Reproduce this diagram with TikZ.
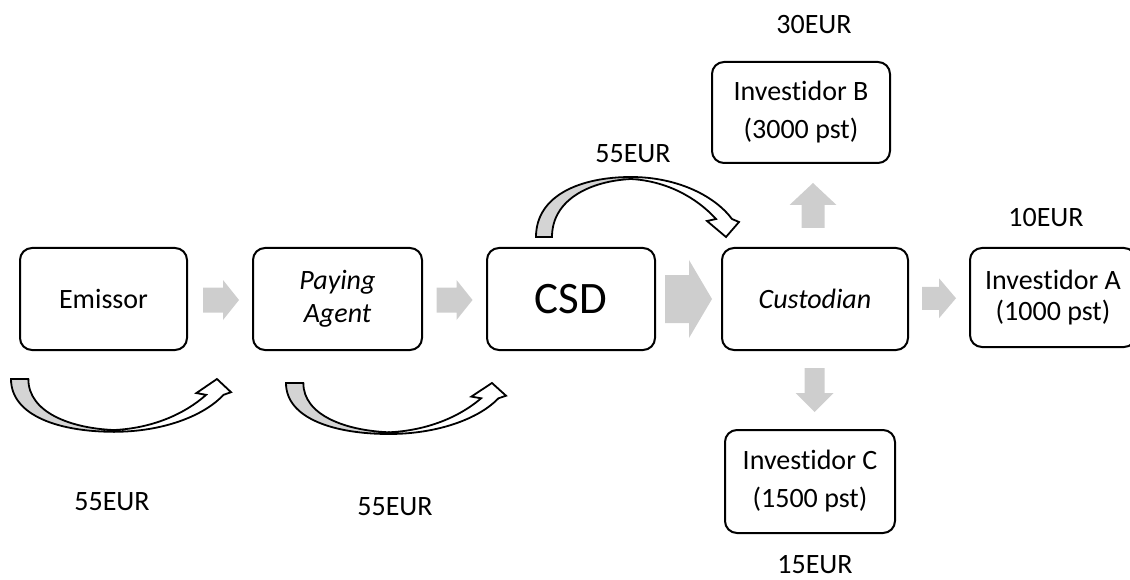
\documentclass[tikz,border=0pt]{standalone}
\usepackage{fontspec}
\setmainfont{Carlito}[Ligatures=NoCommon]
\usetikzlibrary{calc}
\definecolor{flowgray}{RGB}{206,206,206}
\definecolor{bandgray}{RGB}{212,212,212}
\tikzset{
  box/.style={draw, line width=2pt, rounded corners=12pt, align=center,
    inner sep=0pt, font=\fontsize{28}{33}\selectfont},
  lbl/.style={inner sep=0pt, font=\fontsize{28}{33}\selectfont},
  % straight block arrow: length, head length, head half-width, shaft half-width
  pics/blockarrow/.style n args={4}{code={
    \fill[flowgray] (-#1/2,-#4) -- (#1/2-#2,-#4) -- (#1/2-#2,-#3) -- (#1/2,0)
      -- (#1/2-#2,#3) -- (#1/2-#2,#4) -- (-#1/2,#4) -- cycle;
  }},
  % bent ribbon arrow, grey back side on the left, open head on the right
  pics/bentarrow/.style={code={
    \filldraw[fill=bandgray, line width=1.8pt]
      (0,0) .. controls (0,-42) and (45,-60) .. (95,-60) -- (95,-58)
      .. controls (55,-56) and (16,-38) .. (16,0) -- cycle;
    \filldraw[fill=white, line width=1.8pt]
      (95,-60) .. controls (140,-60) and (178,-42) .. (196,-18)
      -- (203,-15) -- (190,0) -- (171,-16) -- (180,-18)
      .. controls (160,-40) and (130,-56) .. (95,-58) -- cycle;
  }}
}
\begin{document}
\begin{tikzpicture}[x=1pt,y=-1pt]
\clip (0,0) rectangle (1130,580);

% main chain
\node[box, minimum width=167pt, minimum height=102pt] (emissor) at (103.5,299) {Emissor};
\node[box, minimum width=169pt, minimum height=102pt,
      font=\itshape\fontsize{28}{33}\selectfont] (paying) at (337.5,299) {Paying\\Agent};
\node[box, minimum width=168pt, minimum height=102pt,
      font=\fontsize{45}{50}\selectfont] (csd) at (571,299) {CSD};
\node[box, minimum width=186pt, minimum height=102pt,
      font=\itshape\fontsize{28}{33}\selectfont] (cust) at (815,299) {Custodian};
\node[box, minimum width=166pt, minimum height=99pt,
      font=\fontsize{28}{31}\selectfont] (invA) at (1053,297.5) {Investidor A\\(1000 pst)};
\node[box, minimum width=178pt, minimum height=101pt,
      font=\fontsize{28}{38}\selectfont] (invB) at (801,112.5) {Investidor B\\(3000 pst)};
\node[box, minimum width=170pt, minimum height=103pt,
      font=\fontsize{28}{38}\selectfont] (invC) at (810,481.5) {Investidor C\\(1500 pst)};

% amounts
\node[lbl] (l30) at (814,25) {30EUR};
\node[lbl] (l55t) at (633,154) {55EUR};
\node[lbl] (l10) at (1046,218) {10EUR};
\node[lbl] (l15) at (815,565) {15EUR};
\node[lbl] (l55a) at (112,502) {55EUR};
\node[lbl] (l55b) at (395,507) {55EUR};

% block arrows between the boxes
\pic at ($(emissor.east)!0.5!(paying.west)+(1,1)$) {blockarrow={36}{16}{20}{12.5}};
\pic at ($(paying.east)!0.5!(csd.west)+(0,1)$) {blockarrow={36}{16}{20}{12.5}};
\pic at ($(csd.east)!0.5!(cust.west)$) {blockarrow={47}{23}{39}{24}};
\pic at ($(cust.east)!0.5!(invA.west)$) {blockarrow={34}{17}{20}{11.5}};
\pic[rotate=90] at ($(cust.north)!0.5!(invB.south)+(5,0)$) {blockarrow={45}{22}{23.5}{11.5}};
\pic[rotate=-90] at ($(cust.south)!0.5!(invC.north)+(2,0)$) {blockarrow={44}{19}{19}{10}};

% bent payment arrows
\pic at ($(csd.north west)+(50,-10)$) {bentarrow};
\pic[xscale=1.084, yscale=-0.88] at ($(emissor.south west)+(-8,28)$) {bentarrow};
\pic[xscale=1.084, yscale=-0.85] at ($(paying.south west)+(34,32)$) {bentarrow};
\end{tikzpicture}
\end{document}
